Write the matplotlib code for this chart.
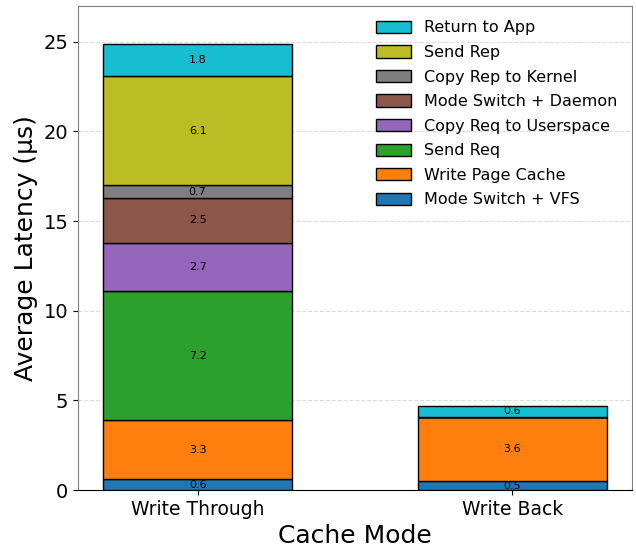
import matplotlib
matplotlib.use("Agg")
import matplotlib.pyplot as plt
import numpy as np

modes = ["Write Through", "Write Back"]
components = ["Mode Switch + VFS", "Write Page Cache", "Send Req", "Copy Req to Userspace",
              "Mode Switch + Daemon", "Copy Rep to Kernel", "Send Rep", "Return to App"]
write_through = [0.6, 3.3, 7.2, 2.7, 2.5, 0.7, 6.1, 1.8]
write_back = [0.5, 3.6, 0.0, 0.0, 0.0, 0.0, 0.0, 0.6]
colors = ["#1f77b4", "#ff7f0e", "#2ca02c", "#9467bd", "#8c564b", "#7f7f7f", "#bcbd22", "#17becf"]

fig = plt.figure(figsize=(6.36, 5.48), dpi=100)
ax = fig.add_axes([78/636, 1 - 490/548, (632-78)/636, (490-6)/548])

x = np.arange(len(modes))
bottom = np.zeros(len(modes))
for i, name in enumerate(components):
    vals = np.array([write_through[i], write_back[i]])
    ax.bar(x, vals, 0.6, bottom=bottom, color=colors[i], edgecolor="black",
           linewidth=1, label=name, zorder=3)
    for j, v in enumerate(vals):
        if v > 0:
            ax.text(x[j], bottom[j] + v / 2, f"{v:.1f}", ha="center", va="center",
                    fontsize=8, zorder=4)
    bottom += vals

ax.set_ylim(0, 27)
ax.set_xticks(x)
ax.set_xticklabels(modes, fontsize=13.5)
ax.tick_params(axis="y", labelsize=14)
ax.set_xlabel("Cache Mode", fontsize=18)
ax.set_ylabel("Average Latency (µs)", fontsize=18)
ax.yaxis.grid(True, linestyle="--", color="#dddddd", linewidth=0.8, zorder=0)
ax.set_axisbelow(True)
for s in ["left", "top", "right"]:
    ax.spines[s].set_color("#808080")
ax.spines["bottom"].set_color("black")

h, l = ax.get_legend_handles_labels()
ax.legend(h[::-1], l[::-1], loc="upper right", fontsize=11.5, frameon=False,
          handlelength=2.2, handleheight=0.8, labelspacing=0.6)

fig.savefig("out.png", dpi=100)
